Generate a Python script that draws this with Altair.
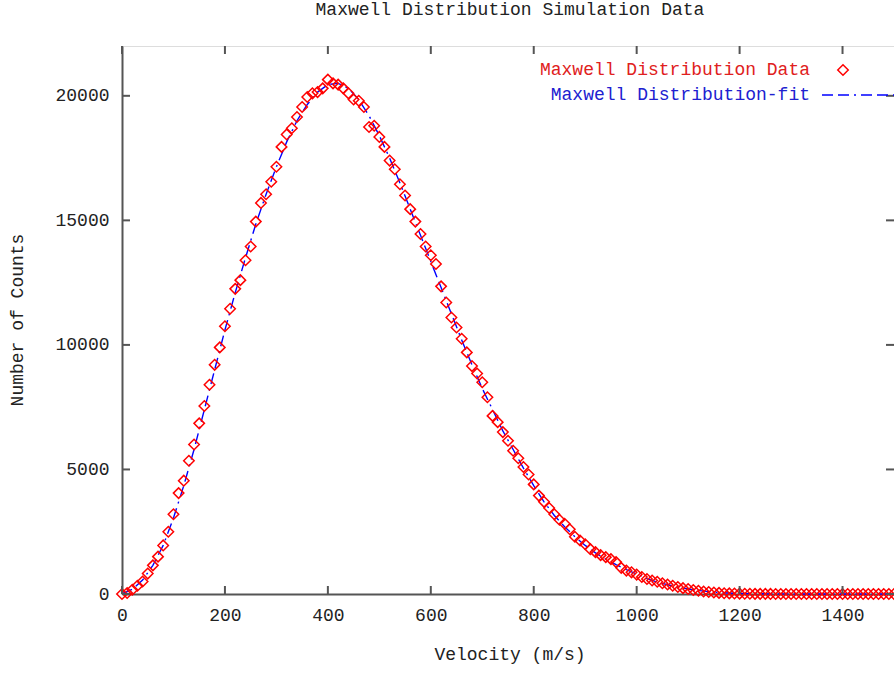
import altair as alt
import pandas as pd

# ---- data ----
velocity = [
    0, 10, 20, 30, 40, 50, 60, 70, 80, 90, 100, 110, 120, 130, 140, 150, 160, 170, 180, 190,
    200, 210, 220, 230, 240, 250, 260, 270, 280, 290, 300, 310, 320, 330, 340, 350, 360, 370, 380, 390,
    400, 410, 420, 430, 440, 450, 460, 470, 480, 490, 500, 510, 520, 530, 540, 550, 560, 570, 580, 590,
    600, 610, 620, 630, 640, 650, 660, 670, 680, 690, 700, 710, 720, 730, 740, 750, 760, 770, 780, 790,
    800, 810, 820, 830, 840, 850, 860, 870, 880, 890, 900, 910, 920, 930, 940, 950, 960, 970, 980, 990,
    1000, 1010, 1020, 1030, 1040, 1050, 1060, 1070, 1080, 1090, 1100, 1110, 1120, 1130, 1140, 1150, 1160, 1170, 1180, 1190,
    1200, 1210, 1220, 1230, 1240, 1250, 1260, 1270, 1280, 1290, 1300, 1310, 1320, 1330, 1340, 1350, 1360, 1370, 1380, 1390,
    1400, 1410, 1420, 1430, 1440, 1450, 1460, 1470, 1480, 1490, 1500,
]
counts = [
    0, 40, 170, 330, 500, 820, 1150, 1500, 1950, 2500, 3200, 4050, 4550, 5350, 6000, 6850, 7550, 8400, 9200, 9900,
    10750, 11450, 12250, 12600, 13400, 13950, 14950, 15700, 16050, 16550, 17150, 17950, 18450, 18700, 19150, 19550, 19950, 20100, 20150, 20300,
    20650, 20500, 20450, 20300, 20100, 19850, 19800, 19550, 18750, 18800, 18350, 17950, 17400, 17050, 16450, 16000, 15450, 14950, 14450, 13950,
    13600, 13250, 12350, 11700, 11100, 10700, 10250, 9700, 9150, 8850, 8500, 7900, 7150, 6900, 6500, 6150, 5750, 5450, 5100, 4800,
    4400, 3950, 3700, 3450, 3200, 2980, 2820, 2600, 2300, 2150, 2000, 1800, 1680, 1560, 1480, 1400, 1280, 1050, 940, 870,
    780, 680, 600, 540, 490, 430, 380, 330, 280, 235, 200, 160, 130, 100, 80, 60, 45, 32, 25, 18,
    14, 10, 8, 6, 5, 4, 3, 2, 2, 1, 1, 1, 0, 1, 0, 0, 1, 0, 0, 0,
    0, 0, 1, 0, 0, 0, 0, 0, 0, 0, 0,
]
fit_velocity = [
    0, 20, 40, 60, 80, 100, 120, 140, 160, 180, 200, 220, 240, 260, 280, 300, 320, 340, 360, 380,
    400, 420, 440, 460, 480, 500, 520, 540, 560, 580, 600, 620, 640, 660, 680, 700, 720, 740, 760, 780,
    800, 820, 840, 860, 880, 900, 920, 940, 960, 980, 1000, 1020, 1040, 1060, 1080, 1100, 1120, 1140, 1160, 1180,
    1200, 1220, 1240, 1260, 1280, 1300, 1320, 1340, 1360, 1380, 1400, 1420, 1440, 1460, 1480, 1500,
]
fit_counts = [
    0, 190, 560, 1150, 1950, 3050, 4350, 5800, 7400, 9000, 10600, 12100, 13500, 14850, 16050, 17150, 18150, 19000, 19650, 20150,
    20450, 20500, 20300, 19850, 19200, 18400, 17500, 16500, 15450, 14400, 13350, 12300, 11250, 10200, 9200, 8250, 7400, 6550, 5800, 5050,
    4350, 3700, 3150, 2700, 2300, 1950, 1650, 1400, 1180, 980, 800, 620, 480, 370, 280, 200, 140, 95, 60, 38,
    24, 15, 10, 6, 4, 3, 2, 1, 1, 0, 0, 0, 0, 0, 0, 0,
]
x_ticks = [0, 200, 400, 600, 800, 1000, 1200, 1400]
y_ticks = [0, 5000, 10000, 15000, 20000]

title_text = "Maxwell Distribution Simulation Data"
x_title = "Velocity (m/s)"
y_title = "Number of Counts"
legend_data = "Maxwell Distribution Data"
legend_fit = "Maxwell Distribution-fit"

FONT = "Liberation Mono"
FS = 18
TXT = "#222222"
RED = "#ff0000"
BLUE = "#0000ff"
FRAME = "#555555"
W, H = 772, 548

df = pd.DataFrame({"v": velocity, "n": counts})
dfit = pd.DataFrame({"v": fit_velocity, "n": fit_counts})
dxt = pd.DataFrame({"t": x_ticks})
dyt = pd.DataFrame({"t": y_ticks})

xs = alt.Scale(domain=[0, 1500], nice=False, zero=False)
ys = alt.Scale(domain=[0, 22000], nice=False, zero=False)

xaxis = alt.Axis(values=x_ticks, ticks=False, domain=True, domainColor=FRAME, domainWidth=2,
                 grid=False, labelFont=FONT, labelFontSize=FS, labelColor=TXT, labelPadding=12,
                 title=None, labelFlush=False, format="d")
yaxis = alt.Axis(values=y_ticks, ticks=False, domain=True, domainColor=FRAME, domainWidth=2,
                 grid=False, labelFont=FONT, labelFontSize=FS, labelColor=TXT, labelPadding=13,
                 title=None, format="d")

X = lambda f: alt.X(f, scale=xs, axis=xaxis)
Y = lambda f: alt.Y(f, scale=ys, axis=yaxis)

fit = alt.Chart(dfit).mark_line(color=BLUE, strokeWidth=1.4, strokeDash=[11, 5, 11, 5, 2, 5]).encode(
    x=X("v:Q"), y=Y("n:Q"))
pts = alt.Chart(df).mark_point(shape="diamond", filled=False, color=RED, size=110, strokeWidth=1.5,
                               opacity=1).encode(x=X("v:Q"), y=Y("n:Q"))

tick_style = dict(color=FRAME, strokeWidth=2)
xb = alt.Chart(dxt).mark_rule(**tick_style).encode(x=X("t:Q"), y=alt.value(H), y2=alt.value(H - 8))
xt = alt.Chart(dxt).mark_rule(**tick_style).encode(x=X("t:Q"), y=alt.value(0), y2=alt.value(8))
yl = alt.Chart(dyt).mark_rule(**tick_style).encode(y=Y("t:Q"), x=alt.value(0), x2=alt.value(8))
yr = alt.Chart(dyt).mark_rule(**tick_style).encode(y=Y("t:Q"), x=alt.value(W), x2=alt.value(W - 8))

txt = dict(font=FONT, fontSize=FS)
title = alt.Chart(pd.DataFrame({"s": [title_text]})).mark_text(
    color=TXT, align="center", baseline="alphabetic", **txt).encode(
    text="s:N", x=alt.value(W / 2 + 2), y=alt.value(-31))
xtitle = alt.Chart(pd.DataFrame({"s": [x_title]})).mark_text(
    color=TXT, align="center", baseline="middle", **txt).encode(
    text="s:N", x=alt.value(W / 2 + 2), y=alt.value(H + 61))
ytitle = alt.Chart(pd.DataFrame({"s": [y_title]})).mark_text(
    color=TXT, align="center", baseline="middle", angle=270, **txt).encode(
    text="s:N", x=alt.value(-104), y=alt.value(H / 2))

leg1 = alt.Chart(pd.DataFrame({"s": [legend_data]})).mark_text(
    color="#e02020", align="right", baseline="middle", **txt).encode(
    text="s:N", x=alt.value(688), y=alt.value(24))
leg2 = alt.Chart(pd.DataFrame({"s": [legend_fit]})).mark_text(
    color="#2020d0", align="right", baseline="middle", **txt).encode(
    text="s:N", x=alt.value(688), y=alt.value(49))
legp = alt.Chart(pd.DataFrame({"s": [legend_data]})).mark_point(
    shape="diamond", filled=False, color=RED, size=110, strokeWidth=1.5, opacity=1).encode(
    x=alt.value(721), y=alt.value(24))
legl = alt.Chart(pd.DataFrame({"s": [legend_fit]})).mark_rule(
    color=BLUE, strokeWidth=1.4, strokeDash=[11, 5, 11, 5, 2, 5]).encode(
    x=alt.value(700), x2=alt.value(W), y=alt.value(49))

chart = alt.layer(fit, pts, xb, xt, yl, yr, title, xtitle, ytitle, leg1, leg2, legp, legl).properties(
    width=W, height=H,
    autosize=alt.AutoSizeParams(type="none"),
    padding={"left": 122, "top": 46, "right": 0, "bottom": 80},
).configure_view(stroke=FRAME, strokeWidth=2).configure(background="white")

chart.save("out.html", embed_options={"renderer": "svg", "actions": False})
